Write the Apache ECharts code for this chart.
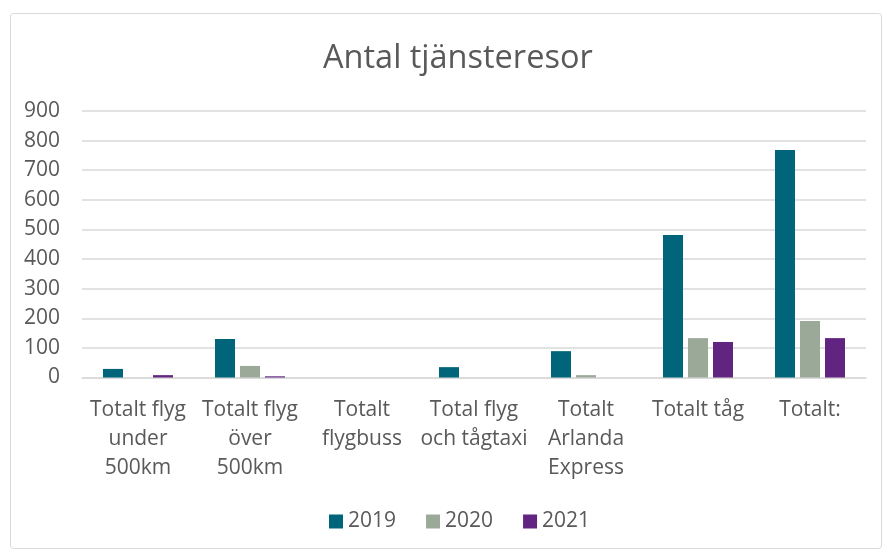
<!DOCTYPE html>
<html>
<head>
<meta charset="utf-8">
<script src="https://cdn.jsdelivr.net/npm/echarts@6/dist/echarts.min.js"></script>
<style>
  html, body { margin: 0; padding: 0; background: #fff; }
  #chart { width: 890px; height: 553px; }
</style>
</head>
<body>
<div id="chart"></div>
<script>
// kategorier och värden
const categories = [
  'Totalt flyg\nunder\n500km',
  'Totalt flyg\növer\n500km',
  'Totalt\nflygbuss',
  'Total flyg\noch tågtaxi',
  'Totalt\nArlanda\nExpress',
  'Totalt tåg',
  'Totalt:'
];
const years = ['2019', '2020', '2021'];
const values2019 = [29, 130, 0, 35, 89, 481, 768];
const values2020 = [0, 39, 0, 0, 8, 133, 191];
const values2021 = [8, 4, 0, 0, 0, 120, 133];
const colors = ['#00647A', '#9BAA98', '#612581'];

const textColor = '#595959';
const font = '"Open Sans", sans-serif';

const chart = echarts.init(document.getElementById('chart'));

const seriesData = [values2019, values2020, values2021];

const option = {
  animation: false,
  color: colors,
  textStyle: { fontFamily: font },
  title: {
    text: 'Antal tjänsteresor',
    left: 318,
    top: 37,
    textStyle: { fontFamily: font, fontSize: 32.5, fontWeight: 'normal', color: textColor }
  },
  graphic: [{
    type: 'rect',
    shape: { x: 10.5, y: 13.5, width: 871, height: 535, r: 3 },
    style: { fill: 'none', stroke: '#D9D9D9', lineWidth: 1 },
    z: -1
  }],
  legend: {
    bottom: 16,
    left: 324,
    itemWidth: 14,
    itemHeight: 14,
    itemGap: 30,
    icon: 'rect',
    textStyle: { fontFamily: font, fontSize: 21, color: textColor },
    data: years
  },
  grid: { left: 82, right: 24, top: 111, bottom: 175.5, containLabel: false },
  xAxis: {
    type: 'category',
    data: categories,
    axisTick: { show: false },
    axisLine: { lineStyle: { color: '#D9D9D9', width: 1.5 } },
    axisLabel: {
      interval: 0,
      margin: 18,
      lineHeight: 29,
      fontFamily: font,
      fontSize: 21,
      color: textColor
    }
  },
  yAxis: {
    type: 'value',
    min: 0,
    max: 900,
    interval: 100,
    axisLine: { show: false },
    axisTick: { show: false },
    splitLine: { lineStyle: { color: '#D9D9D9', width: 1.5 } },
    axisLabel: { margin: 22, fontFamily: font, fontSize: 21, color: textColor }
  },
  series: years.map((y, i) => ({
    name: y,
    type: 'bar',
    data: seriesData[i],
    barWidth: 20,
    barGap: '25%',
    barCategoryGap: '37.5%'
  }))
};

chart.setOption(option);
</script>
</body>
</html>
